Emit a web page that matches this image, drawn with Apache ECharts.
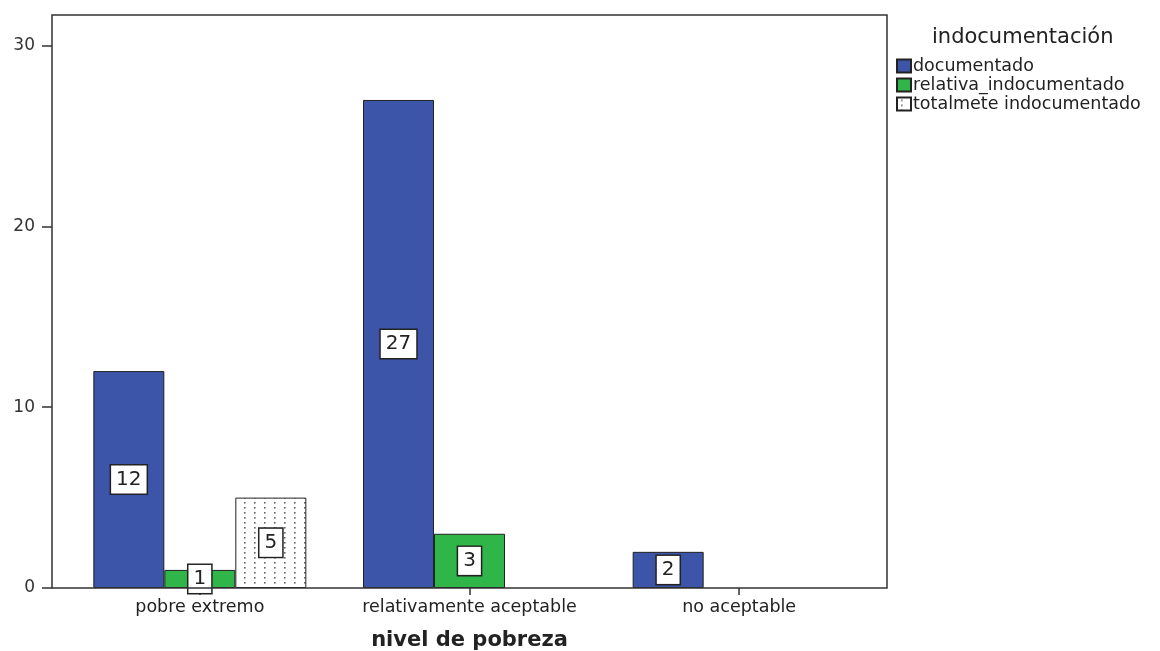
<!DOCTYPE html>
<html>
<head>
<meta charset="utf-8">
<script src="https://cdn.jsdelivr.net/npm/echarts@6/dist/echarts.min.js"></script>
<style>html,body{margin:0;padding:0;background:#fff;}#c{width:1160px;height:651px;}</style>
</head>
<body>
<div id="c"></div>
<script>
var categories = ['pobre extremo', 'relativamente aceptable', 'no aceptable'];
var documentado = [12, 27, 2];
var relativaIndocumentado = [1, 3, null];
var totalmeteIndocumentado = [5, null, null];
var yTicks = [0, 10, 20, 30];
var seriesNames = ['documentado', 'relativa_indocumentado', 'totalmete indocumentado'];

var pc = document.createElement('canvas');
pc.width = 10; pc.height = 5;
var ctx = pc.getContext('2d');
ctx.fillStyle = '#ffffff'; ctx.fillRect(0, 0, 10, 5);
ctx.fillStyle = '#666666'; ctx.fillRect(4, 2, 1.6, 1.6);

var font = '"DejaVu Sans", Verdana, sans-serif';
var lbl = {
  show: true, position: 'inside', color: '#222', fontSize: 20, fontFamily: font,
  backgroundColor: '#fff', borderColor: '#222', borderWidth: 1.5, padding: [5, 5, 3, 5]
};

var chart = echarts.init(document.getElementById('c'));
chart.setOption({
  animation: false,
  textStyle: { fontFamily: font },
  title: { text: 'indocumentación', left: 927, top: 22, textStyle: { fontSize: 21, fontWeight: 'normal', color: '#222', fontFamily: font } },
  legend: {
    orient: 'vertical', left: 891, top: 52, itemWidth: 14, itemHeight: 13, itemGap: 1, icon: 'rect',
    textStyle: { fontSize: 17.5, lineHeight: 18, color: '#222', fontFamily: font, padding: [0, 0, 0, -3] },
    data: seriesNames
  },
  grid: { left: 65, right: 286, top: 15, bottom: 63, outerBoundsMode: 'none' },
  graphic: [{
    type: 'rect', shape: { x: 52, y: 15, width: 835, height: 573 },
    style: { fill: 'none', stroke: '#333', lineWidth: 1.5 }, silent: true, z: 10
  }],
  xAxis: {
    type: 'category', data: categories,
    axisLine: { show: false },
    axisTick: { show: true, interval: 0, alignWithLabel: true, length: 7, lineStyle: { color: '#333', width: 1.5 } },
    axisLabel: { interval: 0, hideOverlap: false, fontSize: 17.5, color: '#222', margin: 10, fontFamily: font },
    name: 'nivel de pobreza', nameLocation: 'middle', nameGap: 42,
    nameTextStyle: { fontSize: 21, fontWeight: 'bold', color: '#222', fontFamily: font }
  },
  yAxis: {
    type: 'value', min: 0, max: 31.7, interval: 10, offset: 13,
    axisLine: { show: false },
    splitLine: { show: false },
    axisTick: { show: true, length: 10, customValues: yTicks, lineStyle: { color: '#333', width: 1.5 } },
    axisLabel: { fontSize: 17, color: '#333', margin: 17, customValues: yTicks, fontFamily: font }
  },
  series: [
    { name: seriesNames[0], type: 'bar', data: documentado, barWidth: 71, barGap: '0%',
      itemStyle: { color: '#3c55a9', borderColor: '#222', borderWidth: 1 }, label: lbl },
    { name: seriesNames[1], type: 'bar', data: relativaIndocumentado, barWidth: 71, barGap: '0%',
      itemStyle: { color: '#2fb548', borderColor: '#222', borderWidth: 1 }, label: lbl },
    { name: seriesNames[2], type: 'bar', data: totalmeteIndocumentado, barWidth: 71, barGap: '0%',
      itemStyle: { color: { image: pc, repeat: 'repeat' }, borderColor: '#222', borderWidth: 1 }, label: lbl }
  ]
});
</script>
</body>
</html>
